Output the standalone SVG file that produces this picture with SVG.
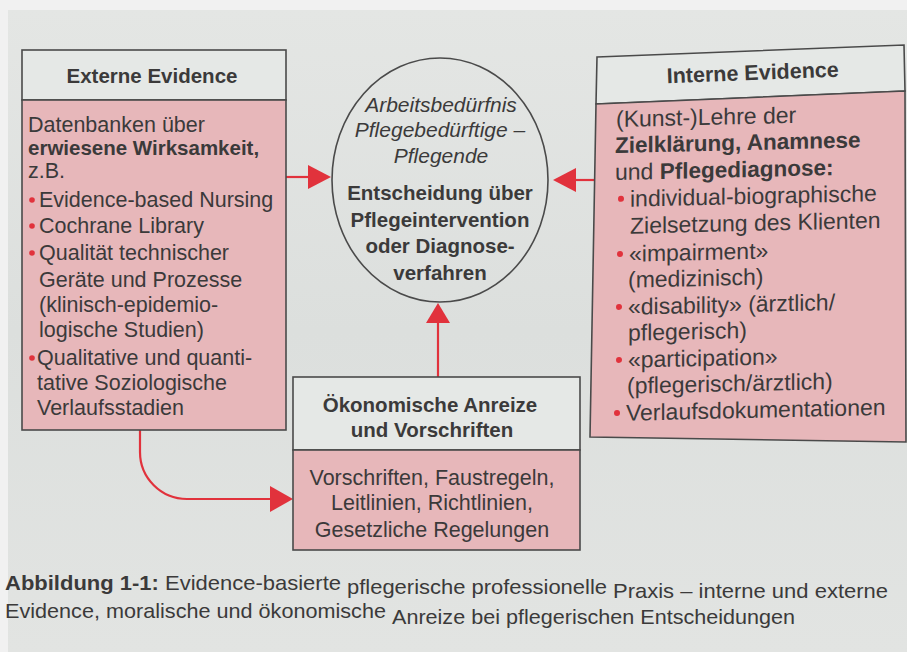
<svg xmlns="http://www.w3.org/2000/svg" width="907" height="652" viewBox="0 0 907 652">
<defs>
<style>
.t{font-family:"Liberation Sans",Arial,sans-serif;fill:#3b3a3a;}
.l{font-size:21.5px;}
.lb{font-size:20.5px;font-weight:bold;}
.r{font-size:23px;}
.rb{font-size:22.5px;font-weight:bold;}
.h{font-size:20.5px;font-weight:bold;text-anchor:middle;}
.c{text-anchor:middle;}
.cap{font-size:21px;}
.box{stroke:#4a4a4a;stroke-width:1.6;}
.pink{fill:#e7b7ba;}
.head{fill:#e5e8e6;}
.ar{fill:#e1323c;stroke:none;}
.ln{stroke:#e1323c;stroke-width:2.2;fill:none;}
.dot{fill:#e1323c;}
</style>
<linearGradient id="bg" x1="0" y1="0" x2="0" y2="1">
<stop offset="0" stop-color="#e4e6e4"/>
<stop offset="0.5" stop-color="#dcdfdd"/>
<stop offset="1" stop-color="#e2e4e2"/>
</linearGradient>
</defs>
<rect x="0" y="0" width="907" height="652" fill="#f1f1f1"/>
<rect x="8" y="10" width="899" height="642" fill="url(#bg)"/>

<g id="connectors">
<line class="ln" x1="286" y1="177" x2="311" y2="177"/>
<polygon class="ar" points="308,165 331,177 308,189"/>
<line class="ln" x1="595" y1="180" x2="573" y2="180"/>
<polygon class="ar" points="576,168 553,180 576,192"/>
<line class="ln" x1="438" y1="377" x2="438" y2="320"/>
<polygon class="ar" points="426,323 438,303 450,323"/>
<path class="ln" d="M140,430 V452 A47,47 0 0 0 187,499 H272"/>
<polygon class="ar" points="270,486 293,499 270,512"/>
</g>

<g id="externe-evidence">
<rect class="box head" x="22" y="50" width="264" height="50"/>
<rect class="box pink" x="22" y="100" width="264" height="330"/>
<text class="t h" x="152" y="83">Externe Evidence</text>
<text class="t l" x="28" y="132">Datenbanken über</text>
<text class="t lb" x="28" y="155">erwiesene Wirksamkeit,</text>
<text class="t l" x="28" y="178">z.B.</text>
<circle class="dot" cx="32" cy="200" r="2.8"/>
<text class="t l" x="39" y="207">Evidence-based Nursing</text>
<circle class="dot" cx="32" cy="226" r="2.8"/>
<text class="t l" x="39" y="233">Cochrane Library</text>
<circle class="dot" cx="32" cy="253" r="2.8"/>
<text class="t l" x="39" y="260">Qualität technischer</text>
<text class="t l" x="39" y="287">Geräte und Prozesse</text>
<text class="t l" x="39" y="312">(klinisch-epidemio-</text>
<text class="t l" x="39" y="337">logische Studien)</text>
<circle class="dot" cx="32" cy="358" r="2.8"/>
<text class="t l" x="37" y="365">Qualitative und quanti-</text>
<text class="t l" x="37" y="390">tative Soziologische</text>
<text class="t l" x="37" y="415">Verlaufsstadien</text>
</g>

<g id="interne-evidence">
<polygon class="box head" points="597,57 904,45 905,91 596,104"/>
<polygon class="box pink" points="596,104 905,91 906,442 590,437"/>
<text class="t c" x="753" y="80" font-size="21.5" font-weight="bold" transform="rotate(-2.2 753 80)">Interne Evidence</text>
<g transform="translate(615 0) skewY(-1.3) translate(-615 0)">
<text class="t r" x="616" y="127">(Kunst-)Lehre der</text>
<text class="t rb" x="615" y="153">Zielklärung, Anamnese</text>
<text class="t r" x="615" y="180">und <tspan font-weight="bold" font-size="22.5">Pflegediagnose:</tspan></text>
<circle class="dot" cx="621" cy="199" r="3"/>
<text class="t r" x="630" y="207">individual-biographische</text>
<text class="t r" x="630" y="234">Zielsetzung des Klienten</text>
<circle class="dot" cx="620" cy="254" r="3"/>
<text class="t r" x="629" y="262">«impairment»</text>
<text class="t r" x="628" y="288">(medizinisch)</text>
<circle class="dot" cx="619" cy="307" r="3"/>
<text class="t r" x="628" y="315">«disability» (ärztlich/</text>
<text class="t r" x="628" y="341">pflegerisch)</text>
<circle class="dot" cx="619" cy="360" r="3"/>
<text class="t r" x="628" y="368">«participation»</text>
<text class="t r" x="627" y="394">(pflegerisch/ärztlich)</text>
<circle class="dot" cx="617" cy="413" r="3"/>
<text class="t r" x="626" y="421">Verlaufsdokumentationen</text>
</g>
</g>

<g id="entscheidung">
<ellipse cx="440" cy="180" rx="108" ry="122" fill="none" stroke="#4a4a4a" stroke-width="1.6"/>
<text class="t c" x="441" y="112" font-size="21" font-style="italic">Arbeitsbedürfnis</text>
<text class="t c" x="440" y="137" font-size="21" font-style="italic">Pflegebedürftige –</text>
<text class="t c" x="441" y="163" font-size="21" font-style="italic">Pflegende</text>
<text class="t c" x="440" y="200" font-size="20.5" font-weight="bold">Entscheidung über</text>
<text class="t c" x="440" y="227" font-size="20.5" font-weight="bold">Pflegeintervention</text>
<text class="t c" x="440" y="253" font-size="20.5" font-weight="bold">oder Diagnose-</text>
<text class="t c" x="440" y="280" font-size="20.5" font-weight="bold">verfahren</text>
</g>

<g id="oekonomische-anreize">
<rect class="box head" x="293" y="377" width="287" height="73"/>
<rect class="box pink" x="293" y="450" width="287" height="100"/>
<text class="t h" x="430" y="412" font-size="21">Ökonomische Anreize</text>
<text class="t h" x="432" y="437" font-size="21">und Vorschriften</text>
<text class="t c l" x="432" y="485">Vorschriften, Faustregeln,</text>
<text class="t c l" x="432" y="510">Leitlinien, Richtlinien,</text>
<text class="t c l" x="432" y="537">Gesetzliche Regelungen</text>
</g>

<g id="caption">
<text class="t cap" x="5" y="589.5" textLength="336" lengthAdjust="spacingAndGlyphs"><tspan font-weight="bold">Abbildung 1-1:</tspan> Evidence-basierte</text>
<text class="t cap" x="347" y="594" textLength="260" lengthAdjust="spacingAndGlyphs">pflegerische professionelle</text>
<text class="t cap" x="613" y="598" textLength="275" lengthAdjust="spacingAndGlyphs">Praxis – interne und externe</text>
<text class="t cap" x="5" y="618" textLength="381" lengthAdjust="spacingAndGlyphs">Evidence, moralische und ökonomische</text>
<text class="t cap" x="392" y="623.5" textLength="403" lengthAdjust="spacingAndGlyphs">Anreize bei pflegerischen Entscheidungen</text>
</g>
</svg>
